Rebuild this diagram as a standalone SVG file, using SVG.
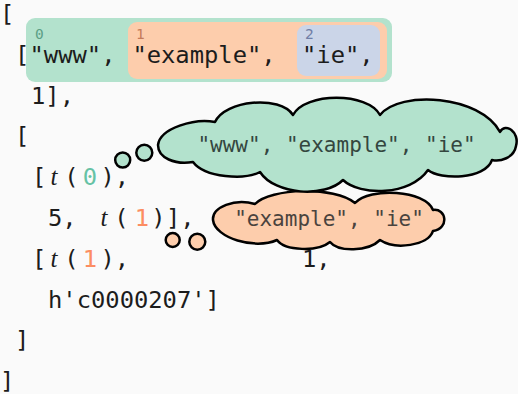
<svg xmlns="http://www.w3.org/2000/svg" width="518" height="394" viewBox="0 0 518 394">
  <style>
    .code { font-family: "DejaVu Sans Mono", "Liberation Mono", monospace; font-size: 23.8px; fill: #1c1c1c; }
    .var { font-family: "Liberation Serif", "DejaVu Serif", serif; font-style: italic; font-size: 25px; fill: #1c1c1c; }
    .idx { font-family: "DejaVu Sans Mono", monospace; font-size: 14.5px; }
    .cloud { stroke: #000; stroke-width: 2.5; stroke-linejoin: round; }
    .ctext { font-family: "DejaVu Sans Mono", "Liberation Mono", monospace; font-size: 21px; text-anchor: middle; }
    .mid { text-anchor: middle; }
  </style>

  <rect width="518" height="394" fill="#fafafa"/>

  <!-- highlighted nested spans of the first array -->
  <g id="span-0">
    <rect x="26" y="18" width="366" height="64" rx="9" fill="#b3e2cd"/>
    <text class="idx" x="35" y="39" fill="#5c9f86">0</text>
  </g>
  <g id="span-1">
    <rect x="128" y="22" width="259" height="57" rx="9" fill="#fdcdac"/>
    <text class="idx" x="136" y="39" fill="#c47a5a">1</text>
  </g>
  <g id="span-2">
    <rect x="297" y="25" width="83" height="51" rx="9" fill="#cbd5e8"/>
    <text class="idx" x="305" y="39" fill="#6f7ea6">2</text>
  </g>

  <!-- code listing -->
  <g id="code">
    <text class="code" x="0" y="22">[</text>
    <text class="code" x="15" y="62.8">[</text>
    <text class="code" x="29.5" y="62.8">"www",</text>
    <text class="code" x="132.4" y="62.8">"example",</text>
    <text class="code" x="302" y="62.8">"ie",</text>
    <text class="code" x="31" y="103.6">1],</text>
    <text class="code" x="15" y="144.4">[</text>

    <text class="code" x="32" y="185.2">[</text>
    <text class="var mid" x="54" y="185.2">t</text>
    <text class="code mid" x="71.5" y="185.2">(</text>
    <text class="code mid" x="90" y="185.2" style="fill:#66c2a5">0</text>
    <text class="code" x="100.5" y="185.2">),</text>

    <text class="code" x="48" y="226">5,</text>
    <text class="var mid" x="104" y="226">t</text>
    <text class="code mid" x="121.5" y="226">(</text>
    <text class="code mid" x="142" y="226" style="fill:#fc8d62">1</text>
    <text class="code mid" x="158.5" y="226">)</text>
    <text class="code" x="166" y="226">],</text>

    <text class="code" x="32" y="266.8">[</text>
    <text class="var mid" x="54" y="266.8">t</text>
    <text class="code mid" x="71.5" y="266.8">(</text>
    <text class="code mid" x="90" y="266.8" style="fill:#fc8d62">1</text>
    <text class="code" x="100.5" y="266.8">),</text>
    <text class="code" x="302" y="266.8">1,</text>

    <text class="code" x="48" y="307.6">h'c0000207']</text>
    <text class="code" x="15" y="348.4">]</text>
    <text class="code" x="0" y="389.2">]</text>
  </g>

  <!-- thought bubbles showing the decoded values -->
  <g id="cloud-1">
    <path class="cloud" fill="#fdcdac" d="M213,220 C212,207 235,198 255,204 C270,188 335,186 355,203 C370,187 425,190 433,210 C446,208 450,228 433,231 C428,246 395,250 380,240 C368,252 338,252 330,242 C318,252 285,251 277,240 C255,250 215,238 213,220 Z"/>
    <circle class="cloud" cx="172.7" cy="240" r="7" fill="#fdcdac"/>
    <circle class="cloud" cx="197.3" cy="241.7" r="8" fill="#fdcdac"/>
    <text class="ctext" x="329" y="226" fill="#4a433e">"example", "ie"</text>
  </g>
  <g id="cloud-0">
    <path class="cloud" fill="#b3e2cd" d="M158,145 C160,128 195,118 215,122 C225,100 280,95 293,115 C305,92 368,92 380,115 C400,90 480,95 500,132 C505,122 520,132 516,146 C514,158 500,162 492,160 C485,180 440,180 428,170 C410,196 360,196 343,180 C325,198 275,195 260,172 C245,180 205,178 193,162 C175,165 158,158 158,145 Z"/>
    <circle class="cloud" cx="122.7" cy="160" r="7.5" fill="#b3e2cd"/>
    <circle class="cloud" cx="144.3" cy="152.7" r="8" fill="#b3e2cd"/>
    <text class="ctext" x="336.5" y="152" fill="#34463f">"www", "example", "ie"</text>
  </g>
</svg>
